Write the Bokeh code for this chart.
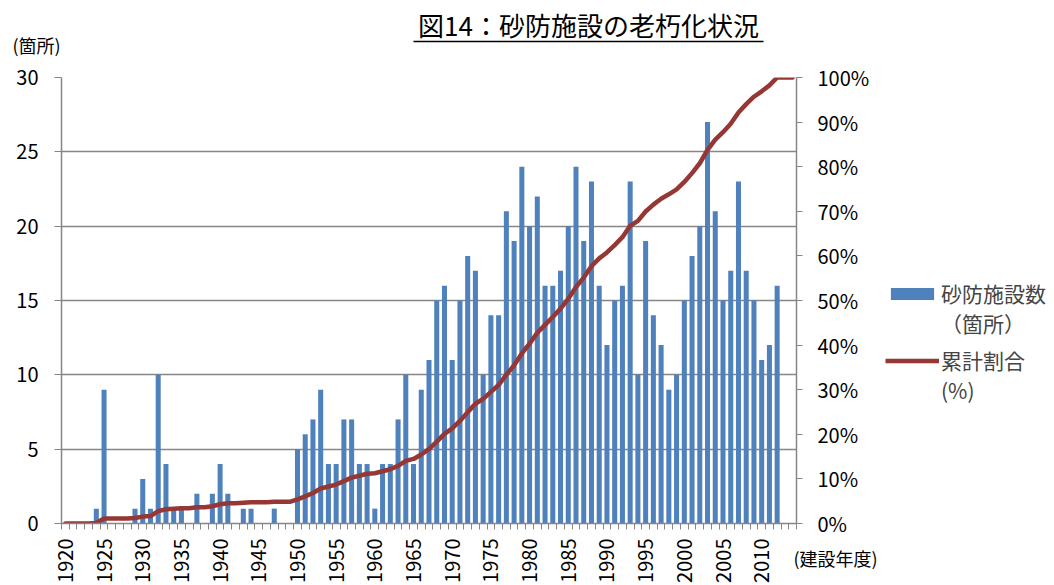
import numpy as np
from bokeh.plotting import figure
from bokeh.models import (Range1d, LinearAxis, FixedTicker, PrintfTickFormatter,
                          Legend, LegendItem, GridBox, Column)
from bokeh.core.properties import value
from bokeh.embed import file_html
from bokeh.resources import INLINE

# 建設年度（1920〜2014）
years = list(range(1920, 2015))

# 砂防施設数（箇所）
counts = [
    0, 0, 0, 0, 1, 9, 0, 0, 0, 1,          # 1920-1929
    3, 1, 10, 4, 1, 1, 0, 2, 0, 2,         # 1930-1939
    4, 2, 0, 1, 1, 0, 0, 1, 0, 0,          # 1940-1949
    5, 6, 7, 9, 4, 4, 7, 7, 4, 4,          # 1950-1959
    1, 4, 4, 7, 10, 4, 9, 11, 15, 16,      # 1960-1969
    11, 15, 18, 17, 10, 14, 14, 21, 19, 24,  # 1970-1979
    20, 22, 16, 16, 17, 20, 24, 19, 23, 16,  # 1980-1989
    12, 15, 16, 23, 10, 19, 14, 12, 9, 10,   # 1990-1999
    15, 18, 20, 27, 21, 15, 17, 23, 17, 15,  # 2000-2009
    11, 12, 16, 0, 0,                        # 2010-2014
]

year_ticks = list(range(1920, 2011, 5))
count_ticks = [0, 5, 10, 15, 20, 25, 30]
pct_ticks = [0, 10, 20, 30, 40, 50, 60, 70, 80, 90, 100]

title_text = "図14：砂防施設の老朽化状況"
# a leading blank line keeps each legend key level with the first text line
bar_label = "\n砂防施設数\n（箇所）"
line_label = "\n累計割合\n(%)"
y_unit = "(箇所)"
x_unit = "(建設年度)"

# 累計割合（%）
cum_pct = (np.cumsum(counts) / np.sum(counts) * 100).tolist()

FONT = "Noto Sans CJK JP"
GRAY = "#868686"
BAR = "#4F81BD"
LINE = "#953735"
W, H = 1054, 585

# ---- chart ----
p = figure(width=W, height=H, output_backend="svg", toolbar_location=None,
           x_range=Range1d(years[0] - 0.5, years[-1] + 0.5),
           y_range=Range1d(0, 30),
           min_border_left=61, min_border_right=258,
           min_border_top=77, min_border_bottom=58,
           outline_line_color=None, background_fill_color="white",
           border_fill_color="white")
p.extra_y_ranges = {"pct": Range1d(0, 100)}

p.vbar(x=years, top=counts, width=0.65, fill_color=BAR, line_color=None)
p.line(x=years, y=cum_pct, y_range_name="pct", line_color=LINE,
       line_width=4.5, line_join="round", line_cap="round")

# x axis: labels every 5 years, ticks on category boundaries
xa = p.xaxis[0]
xa.ticker = FixedTicker(ticks=year_ticks,
                        minor_ticks=[y - 0.5 for y in years] + [years[-1] + 0.5])
xa.major_tick_line_color = None
xa.major_tick_out = 6
xa.major_tick_in = 0
xa.minor_tick_line_color = GRAY
xa.minor_tick_out = 6
xa.minor_tick_in = 0
xa.axis_line_color = GRAY
xa.axis_line_width = 1.5
xa.major_label_orientation = np.pi / 2
xa.major_label_standoff = 9
xa.major_label_text_font = FONT
xa.major_label_text_font_size = "20px"
xa.major_label_text_color = "black"

# left axis: 箇所
ya = p.yaxis[0]
ya.ticker = FixedTicker(ticks=count_ticks)
ya.axis_line_color = GRAY
ya.axis_line_width = 1.5
ya.major_tick_line_color = GRAY
ya.major_tick_out = 7
ya.major_tick_in = 0
ya.minor_tick_line_color = None
ya.major_label_standoff = 16
ya.major_label_text_font = FONT
ya.major_label_text_font_size = "20px"
ya.major_label_text_color = "black"

# right axis: 累計割合
ra = LinearAxis(y_range_name="pct", ticker=FixedTicker(ticks=pct_ticks),
                formatter=PrintfTickFormatter(format="%d%%"))
ra.axis_line_color = GRAY
ra.axis_line_width = 1.5
ra.major_tick_line_color = GRAY
ra.major_tick_out = 6
ra.major_tick_in = 0
ra.minor_tick_line_color = None
ra.major_label_standoff = 15
ra.major_label_text_font = FONT
ra.major_label_text_font_size = "20px"
ra.major_label_text_color = "black"
p.add_layout(ra, "right")

p.xgrid.visible = False
p.ygrid.ticker = FixedTicker(ticks=count_ticks)
p.ygrid.grid_line_color = GRAY
p.ygrid.grid_line_width = 1.5

# ---- text layer: title, unit labels and legend (pixel coordinates) ----
ov = figure(width=W, height=H, output_backend="svg", toolbar_location=None,
            x_range=Range1d(0, W), y_range=Range1d(H, 0),
            x_axis_type=None, y_axis_type=None,
            min_border=0, outline_line_color=None,
            background_fill_color=None, border_fill_color=None)
ov.grid.visible = False

ov.text(x=[588], y=[24], text=[title_text], text_align="center",
        text_baseline="middle", text_font=value(FONT),
        text_font_size="26px", text_color="black")
ov.segment(x0=[413], y0=[41], x1=[763], y1=[41], line_color="black", line_width=1.5)
ov.text(x=[12], y=[44], text=[y_unit], text_align="left", text_baseline="middle",
        text_font=value(FONT), text_font_size="18px", text_color="black")
ov.text(x=[793], y=[557], text=[x_unit], text_align="left", text_baseline="middle",
        text_font=value(FONT), text_font_size="18px", text_color="black")

# legend swatches: same styling as the chart glyphs, with no visible points
nan = float("nan")
bar_key = ov.vbar(x=[nan], top=[nan], width=0.65, fill_color=BAR, line_color=None)
line_key = ov.line(x=[nan], y=[nan], line_color=LINE, line_width=4.5)

legend_style = dict(border_line_color=None, background_fill_alpha=0,
                    padding=0, margin=0, label_text_font=FONT,
                    label_text_font_size="21px", label_text_line_height=1.71,
                    label_standoff=2, glyph_width=54, glyph_height=15)
ov.add_layout(Legend(items=[LegendItem(label=bar_label, renderers=[bar_key])],
                     location=(885, 247), **legend_style), "center")
ov.add_layout(Legend(items=[LegendItem(label=line_label, renderers=[line_key])],
                     location=(885, 180), **legend_style), "center")

layout = GridBox(children=[(p, 0, 0), (Column(children=[ov]), 0, 0)])
open("out.html", "w").write(file_html(layout, INLINE))
